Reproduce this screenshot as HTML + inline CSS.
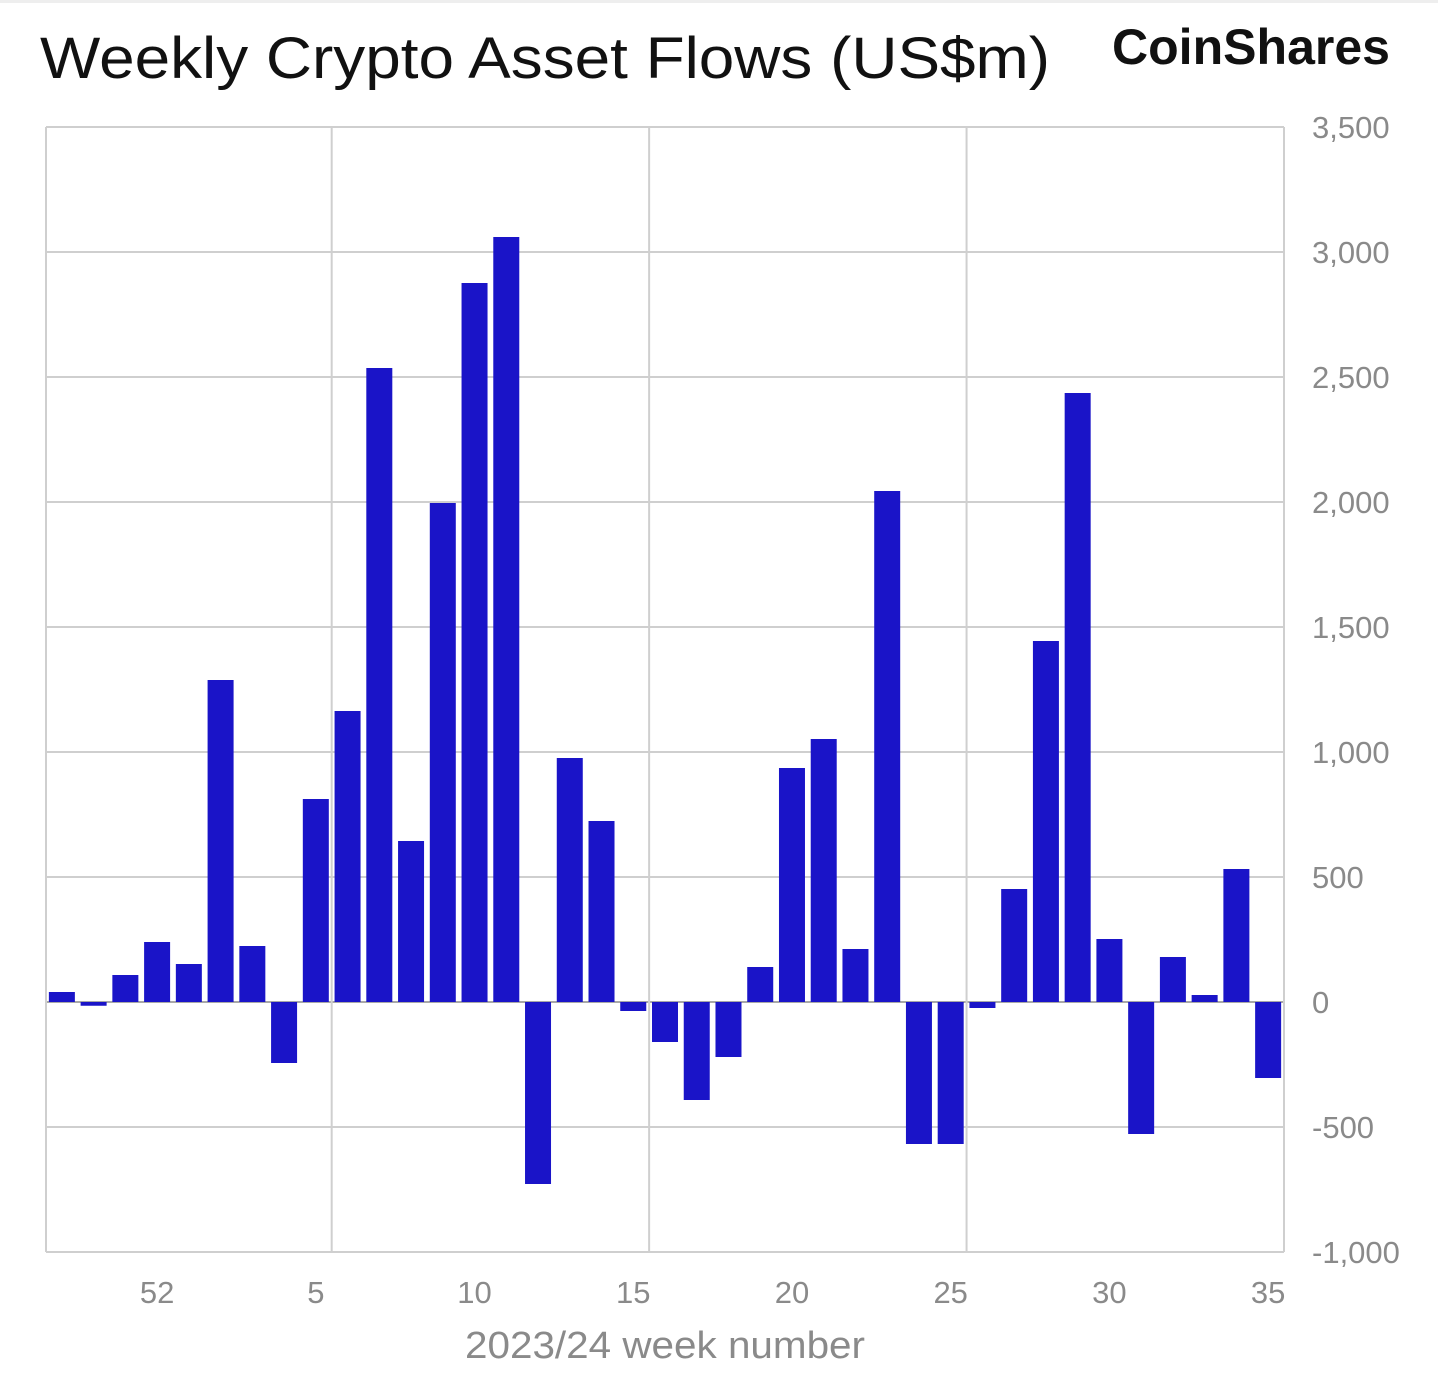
<!DOCTYPE html>
<html><head><meta charset="utf-8"><style>
html,body{margin:0;padding:0;background:#fff;width:1438px;height:1376px;overflow:hidden}
svg{display:block;font-family:"Liberation Sans",sans-serif}
</style></head><body>
<svg id="chart" width="1438" height="1376">
<rect x="0" y="0" width="1438" height="3" fill="#eee"/>
<text x="40" y="78" font-size="58" fill="#111" textLength="1010" lengthAdjust="spacingAndGlyphs">Weekly Crypto Asset Flows (US$m)</text>
<text x="1112" y="64" font-size="50" font-weight="bold" fill="#111" textLength="278" lengthAdjust="spacingAndGlyphs">CoinShares</text>
<g id="grid"></g><g id="bars"></g><g id="axes"></g>
<text x="465" y="1358" font-size="38" fill="#8a8a8a" textLength="400" lengthAdjust="spacingAndGlyphs">2023/24 week number</text>
</svg>
<script>
const weeks = [49,50,51,52,1,2,3,4,5,6,7,8,9,10,11,12,13,14,15,16,17,18,19,20,21,22,23,24,25,26,27,28,29,30,31,32,33,34,35];
const flows = [40,-15,108,240,152,1288,224,-244,812,1164,2536,644,1996,2876,3060,-728,976,724,-36,-160,-392,-220,140,936,1052,212,2044,-568,-568,-24,452,1444,2436,252,-528,180,28,532,-304];
const yTicks = [-1000,-500,0,500,1000,1500,2000,2500,3000,3500];
const xLabelWeeks = [52,5,10,15,20,25,30,35];
const vGridAfter = [5,15,25];
const NS="http://www.w3.org/2000/svg";
const L=46,R=1284,T=127,B=1252,yMin=-1000,yMax=3500;
const slot=(R-L)/weeks.length;
const y=v=>T+(yMax-v)*(B-T)/(yMax-yMin);
const xc=i=>L+slot*(i+0.5);
function mk(tag,attrs,parent){const e=document.createElementNS(NS,tag);for(const k in attrs)e.setAttribute(k,attrs[k]);parent.appendChild(e);return e;}
const grid=document.getElementById('grid'),bars=document.getElementById('bars'),axes=document.getElementById('axes');
yTicks.forEach(t=>{
 const ln=mk('line',{x1:L,x2:R,y1:y(t),y2:y(t),stroke:t===0?'#a8a8a8':'#cfcfcf','stroke-width':2},grid);
 
 
 const tx=mk('text',{x:1312,y:y(t)+11,'font-size':31,fill:'#8a8a8a'},axes);
 tx.textContent=t.toLocaleString('en-US');
 
 
});
const vx=[L,R];
vGridAfter.forEach(w=>{vx.push(L+slot*(weeks.indexOf(w)+1));});
vx.forEach(x=>{
 const ln=mk('line',{x1:x,x2:x,y1:T,y2:B,stroke:'#cfcfcf','stroke-width':2},grid);
 
 
});
flows.forEach((v,i)=>{
 const y0=y(0),y1=y(v);
 const r=mk('rect',{x:xc(i)-13,width:26,y:Math.min(y0,y1),height:Math.max(1,Math.abs(y1-y0)),fill:'#1a14c8'},bars);
 
 
});
xLabelWeeks.forEach(w=>{
 const i=weeks.indexOf(w);
 const tx=mk('text',{x:xc(i),y:1303,'font-size':31,fill:'#8a8a8a','text-anchor':'middle'},axes);
 tx.textContent=w;
 
 
});
</script>
</body></html>
